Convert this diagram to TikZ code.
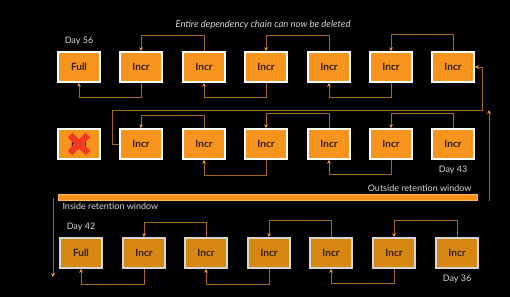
\documentclass[tikz,border=0pt]{standalone}
\usepackage{fontspec}
\setmainfont{Lato}
\usepackage{xcolor}
\usepackage{tikz}
\usetikzlibrary{arrows.meta,positioning}

\definecolor{boxorange}{RGB}{247,148,29}
\definecolor{boxdim}{RGB}{214,135,18}
\definecolor{boxtext}{RGB}{55,28,5}
\definecolor{linkbrown}{RGB}{165,102,35}
\definecolor{labelgray}{RGB}{215,215,210}
\definecolor{crossred}{RGB}{240,60,30}

\begin{document}
\begin{tikzpicture}[
    x=1pt, y=-1pt,
    font=\fontsize{9}{11}\selectfont,
    backup/.style={draw=white, line width=1.6pt, fill=boxorange, minimum width=42pt, minimum height=30pt, inner sep=0pt, text=boxtext, font=\fontsize{10}{12}\selectfont\bfseries},
    kept/.style={backup, fill=boxdim, draw=labelgray},
    dep/.style={draw=linkbrown, line width=1pt, -{Stealth[length=4pt, width=4pt, color=boxorange]}},
    daylabel/.style={text=labelgray},
    cross/.style={draw=crossred, line width=6.5pt}
]
    % Black slide background
    \fill[black] (0,0) rectangle (510,297);
    \useasboundingbox (0,0) rectangle (510,297);

    \node[text=labelgray, font=\fontsize{9.5}{11}\selectfont\itshape] (title) at (263,25) {Entire dependency chain can now be deleted};

    % ==================== ROW 1: outside window, Day 56 ====================
    \node[backup] (a1) at (79,67) {Full};
    \node[backup] (a2) at (141,67) {Incr};
    \node[backup] (a3) at (204,67) {Incr};
    \node[backup] (a4) at (266,67) {Incr};
    \node[backup] (a5) at (329,67) {Incr};
    \node[backup] (a6) at (391,67) {Incr};
    \node[backup] (a7) at (453,67) {Incr};
    \node[daylabel, above=2.5pt of a1] (day56) {Day 56};

    \draw[dep] (a2.south) -- ++(0,15) -| (a1.south);
    \draw[dep] (a3.north) -- ++(0,-16) -| (a2.north);
    \draw[dep] (a4.south) -- ++(0,15) -| (a3.south);
    \draw[dep] (a5.north) -- ++(0,-16) -| (a4.north);
    \draw[dep] (a6.south) -- ++(0,15) -| (a5.south);
    \draw[dep] (a7.north) -- ++(0,-17) -| (a6.north);

    % ==================== ROW 2: deleted full, Day 43 ====================
    \node[backup] (b1) at (79,144) {Full};
    \node[backup] (b2) at (141,144) {Incr};
    \node[backup] (b3) at (204,144) {Incr};
    \node[backup] (b4) at (266,144) {Incr};
    \node[backup] (b5) at (329,144) {Incr};
    \node[backup] (b6) at (391,144) {Incr};
    \node[backup] (b7) at (453,144) {Incr};
    \node[daylabel, below=3pt of b7] (day43) {Day 43};

    % Red cross over the removed full
    \draw[cross] ([shift={(-9,-9)}]b1.center) -- ([shift={(9,9)}]b1.center);
    \draw[cross] ([shift={(9,-9)}]b1.center) -- ([shift={(-9,9)}]b1.center);

    \draw[dep] (b3.north) -- ++(0,-13) -| (b2.north);
    \draw[dep] (b4.south) -- ++(0,16) -| (b3.south);
    \draw[dep] (b5.north) -- ++(0,-15) -| (b4.north);
    \draw[dep] (b6.south) -- ++(0,15) -| (b5.south);
    \draw[dep] (b7.north) -- ++(0,-15) -| (b6.north);

    % Chain link from row 2 back up to row 1
    \coordinate (turn) at (482,110);
    \draw[dep] (b2.west) -- ++(-7,0) |- (turn) |- (a7.east);

    % ==================== RETENTION WINDOW BAR ====================
    \node[draw={rgb,255:red,252;green,185;blue,90}, line width=0.8pt, fill=boxorange, minimum width=419pt, minimum height=6pt, inner sep=0pt] (bar) at (267.5,197.5) {};
    \node[text=labelgray, anchor=east] (outside) at (475,188) {Outside retention window};
    \node[text=labelgray, anchor=west] (inside) at (59,206) {Inside retention window};

    \coordinate (inTop) at (53,198);
    \coordinate (inBot) at (53,277);
    \coordinate (outBot) at (489,201);
    \coordinate (outTop) at (489,110);
    \draw[dep] (inTop) -- (inBot);
    \draw[dep] (outBot) -- (outTop);

    % ==================== ROW 3: inside window, Day 42 ====================
    \node[kept] (c1) at (81,253) {Full};
    \node[kept] (c2) at (144,253) {Incr};
    \node[kept] (c3) at (206,253) {Incr};
    \node[kept] (c4) at (269,253) {Incr};
    \node[kept] (c5) at (331,253) {Incr};
    \node[kept] (c6) at (394,253) {Incr};
    \node[kept] (c7) at (457,253) {Incr};
    \node[daylabel, above=2.5pt of c1] (day42) {Day 42};
    \node[daylabel, below=3pt of c7] (day36) {Day 36};

    \draw[dep] (c2.south) -- ++(0,16) -| (c1.south);
    \draw[dep] (c3.north) -- ++(0,-15) -| (c2.north);
    \draw[dep] (c4.south) -- ++(0,16) -| (c3.south);
    \draw[dep] (c5.north) -- ++(0,-17) -| (c4.north);
    \draw[dep] (c6.south) -- ++(0,15) -| (c5.south);
    \draw[dep] (c7.north) -- ++(0,-17) -| (c6.north);

\end{tikzpicture}
\end{document}
